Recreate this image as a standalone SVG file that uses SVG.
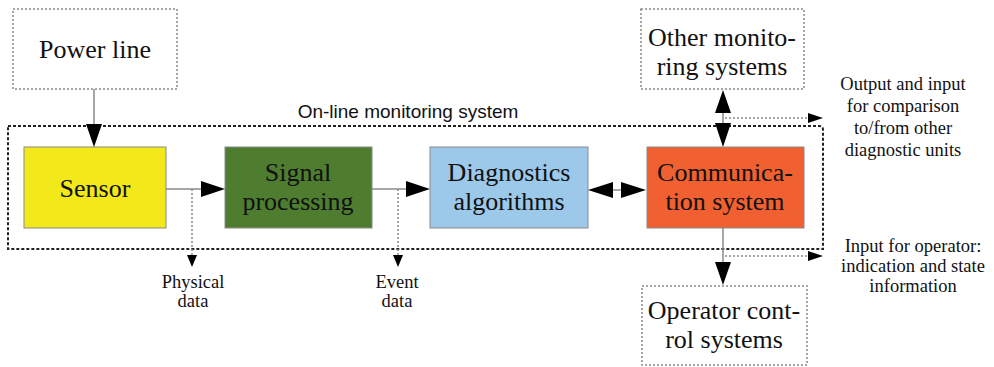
<svg xmlns="http://www.w3.org/2000/svg" width="994" height="367" viewBox="0 0 994 367">
<defs>
<style>
.ext{fill:#fff;stroke:#8a8a8a;stroke-width:1.5;stroke-dasharray:2,2}
.blk{stroke:#8a8a8a;stroke-width:1}
.big{font-family:"Liberation Serif","Times New Roman",serif;font-size:26px;fill:#111;text-anchor:middle}
.sm{font-family:"Liberation Serif","Times New Roman",serif;font-size:18.5px;fill:#111;text-anchor:middle}
.sans{font-family:"Liberation Sans",Arial,sans-serif;font-size:19px;fill:#111;text-anchor:middle}
.ln{stroke:#8a8a8a;stroke-width:1.5;fill:none}
.dot{stroke:#8a8a8a;stroke-width:1.5;fill:none;stroke-dasharray:2,2}
.head{fill:#000}
</style>
</defs>
<rect width="994" height="367" fill="#fff"/>
<g id="container">
<path d="M8,126 H819 Q823,126 823,130 V249 H8 Z" fill="none" stroke="#222" stroke-width="2" stroke-dasharray="3,2"/>
<text class="sans" x="408" y="118">On-line monitoring system</text>
</g>
<g id="power-line">
<rect class="ext" x="13" y="9" width="164" height="80"/>
<text class="big" x="95" y="58">Power line</text>
</g>
<g id="sensor">
<rect class="blk" x="24" y="147" width="142" height="81" fill="#f2e81a"/>
<text class="big" x="95" y="197">Sensor</text>
</g>
<g id="signal-processing">
<rect class="blk" x="225" y="147" width="147" height="81" fill="#4e7d2f"/>
<text class="big" x="298" y="181">Signal</text>
<text class="big" x="298" y="210">processing</text>
</g>
<g id="diagnostics">
<rect class="blk" x="430" y="147" width="158" height="81" fill="#9cc8ea"/>
<text class="big" x="509" y="181">Diagnostics</text>
<text class="big" x="509" y="210">algorithms</text>
</g>
<g id="communication">
<rect class="blk" x="647" y="147" width="157" height="81" fill="#f06030"/>
<text class="big" x="725" y="181">Communica-</text>
<text class="big" x="725" y="210">tion system</text>
</g>
<g id="other-monitoring">
<rect class="ext" x="641" y="9" width="163" height="80"/>
<text class="big" x="722" y="46">Other monito-</text>
<text class="big" x="722" y="75">ring systems</text>
</g>
<g id="operator-control">
<rect class="ext" x="642" y="286" width="165" height="79"/>
<text class="big" x="724" y="319">Operator cont-</text>
<text class="big" x="724" y="348">rol systems</text>
</g>
<g id="labels">
<text class="sm" x="193" y="288">Physical</text>
<text class="sm" x="193" y="307">data</text>
<text class="sm" x="397" y="288">Event</text>
<text class="sm" x="397" y="307">data</text>
<text class="sm" x="903" y="90">Output and input</text>
<text class="sm" x="903" y="112">for comparison</text>
<text class="sm" x="903" y="134">to/from other</text>
<text class="sm" x="903" y="156">diagnostic units</text>
<text class="sm" x="913" y="252">Input for operator:</text>
<text class="sm" x="913" y="272">indication and state</text>
<text class="sm" x="913" y="292">information</text>
</g>
<g id="connectors">
<line class="ln" x1="94" y1="89" x2="94" y2="125"/>
<polygon class="head" points="86,124 102,124 94,147"/>
<line class="ln" x1="166" y1="189" x2="202" y2="189"/>
<polygon class="head" points="201,181 201,197 225,189"/>
<line class="dot" x1="192" y1="189" x2="192" y2="256"/>
<polygon class="head" points="187,255 197,255 192,267"/>
<line class="ln" x1="372" y1="189" x2="407" y2="189"/>
<polygon class="head" points="406,181 406,197 430,189"/>
<line class="dot" x1="398" y1="189" x2="398" y2="256"/>
<polygon class="head" points="393,255 403,255 398,267"/>
<line class="ln" x1="610" y1="190" x2="625" y2="190"/>
<polygon class="head" points="588,190 613,182 613,198"/>
<polygon class="head" points="646,190 621,182 621,198"/>
<line class="ln" x1="723" y1="110" x2="723" y2="125"/>
<polygon class="head" points="723,90 715,113 731,113"/>
<polygon class="head" points="723,147 715,123 731,123"/>
<line class="dot" x1="725" y1="118" x2="810" y2="118"/>
<polygon class="head" points="808,113 808,123 823,118"/>
<line class="ln" x1="723" y1="228" x2="723" y2="264"/>
<polygon class="head" points="715,262 731,262 723,285"/>
<line class="dot" x1="725" y1="256" x2="810" y2="256"/>
<polygon class="head" points="808,251 808,261 823,256"/>
</g>
</svg>
